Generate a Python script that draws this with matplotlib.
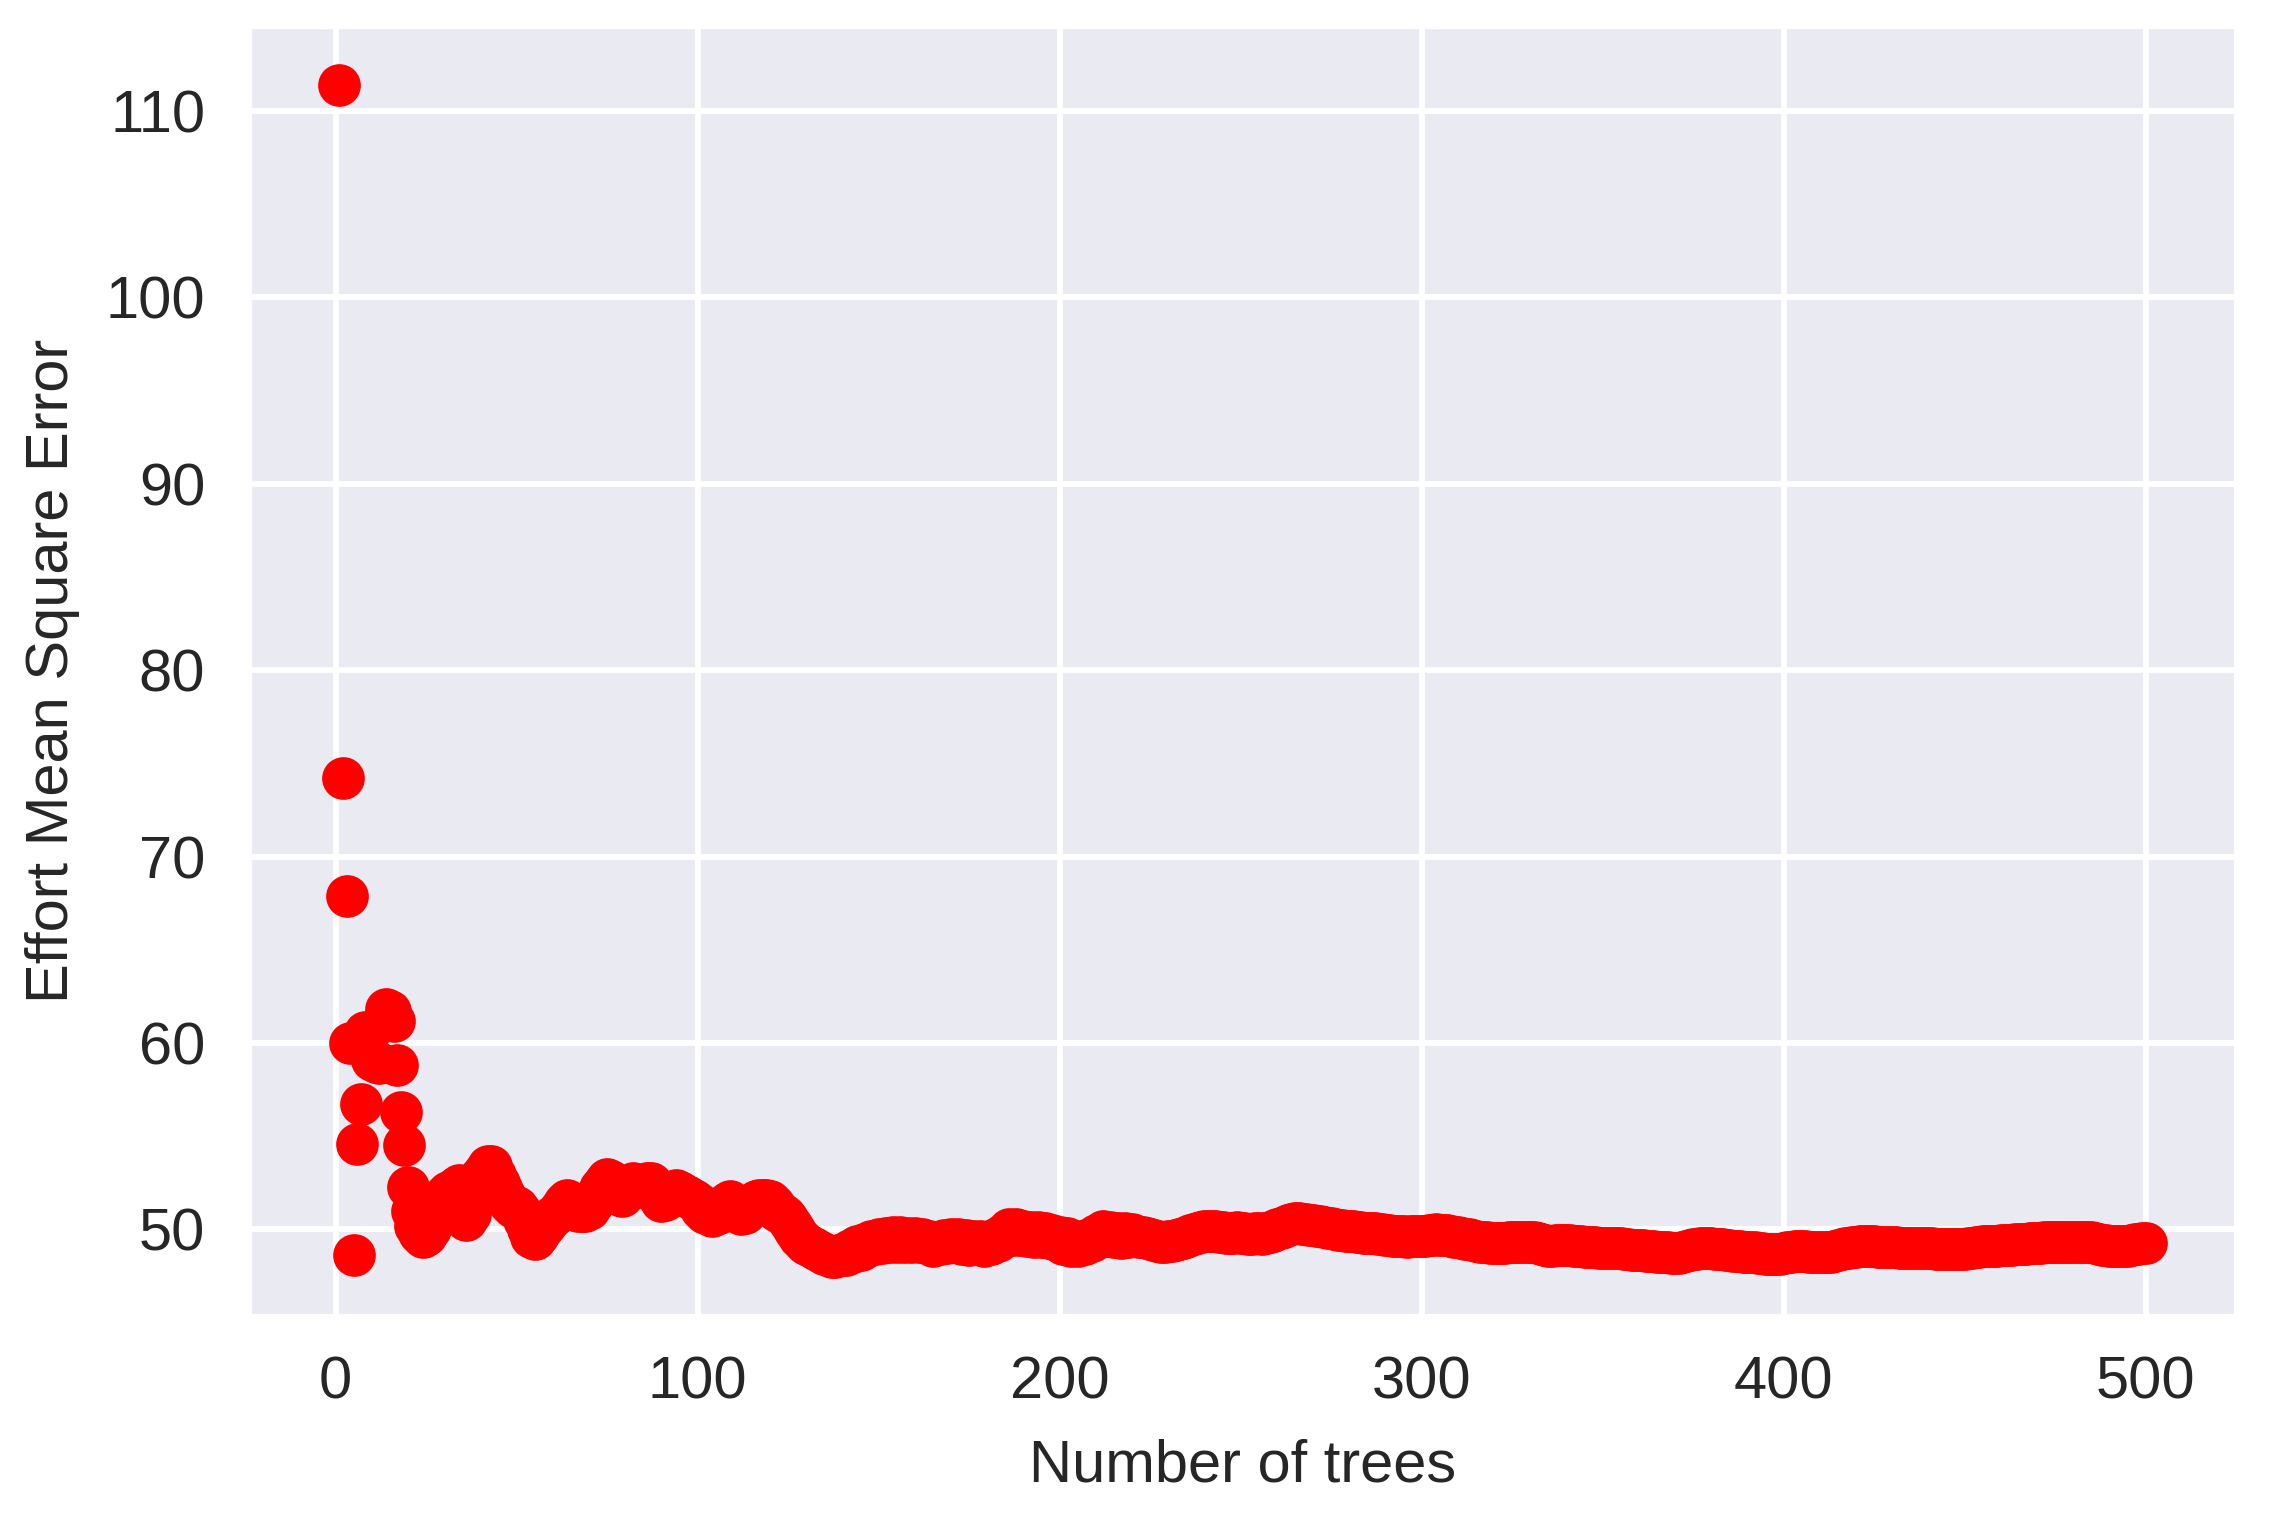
import matplotlib
matplotlib.use("Agg")
from matplotlib import pyplot as plt
import seaborn as sns

# number of trees 1..500 and the matching MSE
n_trees = list(range(1, 501))
mse = [
    111.4, 74.2, 67.9, 60.0, 48.6, 54.6, 56.7, 60.6, 60.4, 59.1,
    59.0, 58.9, 61.2, 61.8, 61.7, 61.2, 58.8, 56.3, 54.5, 52.3,
    51.0, 50.2, 49.8, 49.6, 49.7, 50.0, 50.4, 51.0, 51.5, 51.8,
    52.0, 51.8, 52.2, 52.4, 51.2, 50.5, 50.8, 51.5, 52.2, 52.8,
    53.1, 53.4, 53.4, 52.9, 52.5, 52.1, 51.7, 51.4, 51.2, 51.2,
    51.0, 50.5, 50.0, 49.6, 49.5, 49.7, 50.0, 50.3, 50.5, 50.7,
    50.9, 51.1, 51.4, 51.6, 51.4, 51.2, 51.0, 51.0, 51.0, 51.1,
    51.4, 51.8, 52.2, 52.5, 52.7, 52.6, 52.2, 51.9, 51.8, 52.0,
    52.3, 52.5, 52.4, 52.3, 52.4, 52.5, 52.5, 52.2, 51.8, 51.5,
    51.6, 51.8, 52.0, 52.1, 52.0, 51.9, 51.8, 51.7, 51.6, 51.4,
    51.1, 50.9, 50.8, 50.7, 50.8, 50.9, 51.2, 51.4, 51.5, 51.3,
    51.0, 50.8, 50.9, 51.1, 51.3, 51.5, 51.6, 51.6, 51.6, 51.5,
    51.3, 51.0, 50.9, 50.7, 50.5, 50.2, 49.9, 49.6, 49.4, 49.2,
    49.1, 49.0, 48.9, 48.8, 48.7, 48.6, 48.5, 48.5, 48.6, 48.7,
    48.6, 48.9, 48.8, 49.1, 48.9, 49.2, 49.1, 49.4, 49.2, 49.5,
    49.25, 49.55, 49.35, 49.6, 49.3, 49.6, 49.35, 49.55, 49.3, 49.55,
    49.35, 49.5, 49.25, 49.4, 49.1, 49.3, 49.2, 49.45, 49.25, 49.5,
    49.3, 49.5, 49.2, 49.45, 49.15, 49.4, 49.2, 49.4, 49.1, 49.35,
    49.2, 49.5, 49.4, 49.7, 49.65, 50.0, 49.7, 50.0, 49.7, 49.9,
    49.65, 49.85, 49.6, 49.85, 49.6, 49.8, 49.55, 49.7, 49.45, 49.6,
    49.2, 49.55, 49.1, 49.4, 49.1, 49.4, 49.2, 49.5, 49.4, 49.7,
    49.6, 49.9, 49.65, 49.85, 49.6, 49.8, 49.55, 49.8, 49.6, 49.75,
    49.65, 49.6, 49.6, 49.55, 49.5, 49.45, 49.4, 49.35, 49.35, 49.4,
    49.4, 49.45, 49.5, 49.55, 49.6, 49.7, 49.75, 49.8, 49.85, 49.9,
    49.9, 49.9, 49.9, 49.85, 49.85, 49.8, 49.8, 49.8, 49.85, 49.8,
    49.8, 49.75, 49.75, 49.8, 49.8, 49.75, 49.8, 49.85, 49.9, 50.0,
    50.1, 50.15, 50.25, 50.3, 50.35, 50.35, 50.3, 50.3, 50.25, 50.25,
    50.2, 50.2, 50.15, 50.1, 50.05, 50.0, 49.95, 49.95, 49.9, 49.9,
    49.9, 49.85, 49.85, 49.8, 49.8, 49.8, 49.8, 49.75, 49.75, 49.7,
    49.7, 49.65, 49.65, 49.65, 49.65, 49.6, 49.65, 49.65, 49.65, 49.65,
    49.65, 49.7, 49.7, 49.75, 49.7, 49.7, 49.7, 49.65, 49.6, 49.6,
    49.55, 49.5, 49.5, 49.45, 49.4, 49.35, 49.3, 49.3, 49.25, 49.25,
    49.25, 49.25, 49.25, 49.3, 49.3, 49.3, 49.35, 49.35, 49.35, 49.35,
    49.3, 49.25, 49.2, 49.15, 49.1, 49.1, 49.15, 49.15, 49.15, 49.15,
    49.15, 49.1, 49.1, 49.1, 49.05, 49.05, 49.05, 49.05, 49.0, 49.0,
    49.0, 49.0, 49.0, 49.0, 49.0, 48.95, 48.95, 48.9, 48.9, 48.9,
    48.9, 48.85, 48.85, 48.85, 48.8, 48.8, 48.8, 48.8, 48.75, 48.75,
    48.75, 48.8, 48.85, 48.9, 48.95, 48.95, 49.0, 49.0, 49.0, 49.0,
    48.95, 48.95, 48.95, 48.9, 48.9, 48.85, 48.85, 48.85, 48.8, 48.8,
    48.8, 48.8, 48.75, 48.75, 48.7, 48.7, 48.7, 48.7, 48.7, 48.75,
    48.8, 48.8, 48.85, 48.85, 48.85, 48.85, 48.8, 48.8, 48.8, 48.8,
    48.8, 48.8, 48.8, 48.85, 48.9, 48.95, 49.0, 49.0, 49.05, 49.05,
    49.1, 49.1, 49.1, 49.1, 49.1, 49.05, 49.05, 49.05, 49.05, 49.05,
    49.05, 49.0, 49.0, 49.0, 49.0, 49.0, 49.0, 49.0, 49.0, 49.0,
    49.0, 48.95, 48.95, 48.95, 48.95, 48.95, 48.95, 48.95, 48.95, 48.95,
    49.0, 49.0, 49.05, 49.05, 49.1, 49.1, 49.1, 49.1, 49.1, 49.15,
    49.15, 49.15, 49.15, 49.2, 49.2, 49.2, 49.2, 49.25, 49.25, 49.25,
    49.25, 49.3, 49.3, 49.3, 49.3, 49.3, 49.3, 49.3, 49.35, 49.35,
    49.35, 49.35, 49.35, 49.3, 49.3, 49.25, 49.2, 49.15, 49.15, 49.1,
    49.1, 49.1, 49.1, 49.1, 49.1, 49.15, 49.2, 49.2, 49.25, 49.25,
]

sns.set()
plt.rcParams['font.family'] = ['Liberation Sans', 'DejaVu Sans']
plt.rcParams['grid.linewidth'] = 1.4

fig = plt.figure(figsize=(2272 / 300, 1520 / 300), dpi=300)
ax = fig.add_axes([249 / 2272, 1 - 1316 / 1520, (2236 - 249) / 2272, (1316 - 26) / 1520])

ax.scatter(n_trees, mse, c='red', s=105, linewidths=0)

ax.set_xlabel('Number of trees', fontsize=14.3, labelpad=6.8)
ax.set_ylabel('Effort Mean Square Error', fontsize=14.3, labelpad=6.2)
ax.tick_params(labelsize=14.3)
ax.tick_params(axis='y', pad=4.5)

fig.savefig('out.png', dpi=300)
